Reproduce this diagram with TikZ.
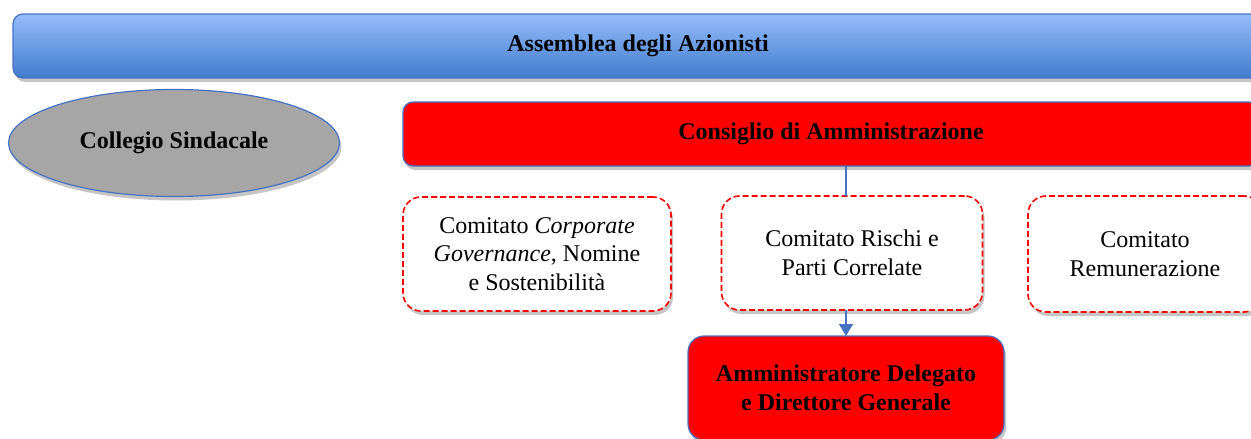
\documentclass[tikz,border=0pt]{standalone}
\usepackage{fontspec}
\setmainfont{Liberation Serif}
\usetikzlibrary{shapes.geometric,shadows,arrows.meta}
\definecolor{bordblue}{RGB}{70,114,196}
\definecolor{lightblue}{RGB}{150,188,252}
\definecolor{darkblue}{RGB}{64,124,204}
\definecolor{ellgray}{RGB}{166,166,166}
\newcommand{\bigsize}{\fontsize{24}{28.5}\selectfont}
\tikzset{
  shad/.style={drop shadow={shadow xshift=2pt,shadow yshift=-4pt,fill=black!45,opacity=.5}},
  bartop/.style={shad,draw=bordblue,line width=1.2pt,rounded corners=10pt,top color=lightblue,bottom color=darkblue,font=\bigsize\bfseries},
  redbox/.style={shad,draw=bordblue,line width=1.2pt,fill=red,font=\bigsize\bfseries},
  commbox/.style={shad,draw=red,fill=white,line width=1.6pt,dash pattern=on 6pt off 3pt,rounded corners=18pt,align=center,font=\bigsize},
  conn/.style={draw=bordblue,line width=1.3pt},
}
\begin{document}
\begin{tikzpicture}[x=1pt,y=-1pt,inner sep=0pt,outer sep=0pt,font=\bigsize]
\useasboundingbox (0,0) rectangle (1251,439);
\clip (0,0) rectangle (1251,439);
\node[bartop,minimum width=1250pt,minimum height=64pt] (asm) at (638,46) {Assemblea degli Azionisti};
\node[shad,ellipse,draw=bordblue,line width=1.2pt,fill=ellgray,minimum width=331pt,minimum height=107pt,font=\bigsize\bfseries] (cs) at (174,143) {Collegio Sindacale};
\node[redbox,rounded corners=10pt,minimum width=856pt,minimum height=64pt] (cda) at (831,134) {Consiglio di Amministrazione};
\node[commbox,minimum width=268pt,minimum height=114pt] (c1) at (537,254) {Comitato \emph{Corporate}\\\emph{Governance}, Nomine\\e Sostenibilità};
\node[commbox,minimum width=261pt,minimum height=114pt] (c2) at (852,253) {Comitato Rischi e\\Parti Correlate};
\node[commbox,minimum width=234pt,minimum height=116pt] (c3) at (1145,254) {Comitato\\Remunerazione};
\node[redbox,rounded corners=16pt,align=center,minimum width=316pt,minimum height=104pt] (ad) at (846,388) {Amministratore Delegato\\e Direttore Generale};
\draw[conn] (cda.south -| ad.north) -- (c2.north -| ad.north);
\draw[conn,-{Triangle[width=14pt,length=12pt]}] (c2.south -| ad.north) -- (ad.north);
\end{tikzpicture}
\end{document}
